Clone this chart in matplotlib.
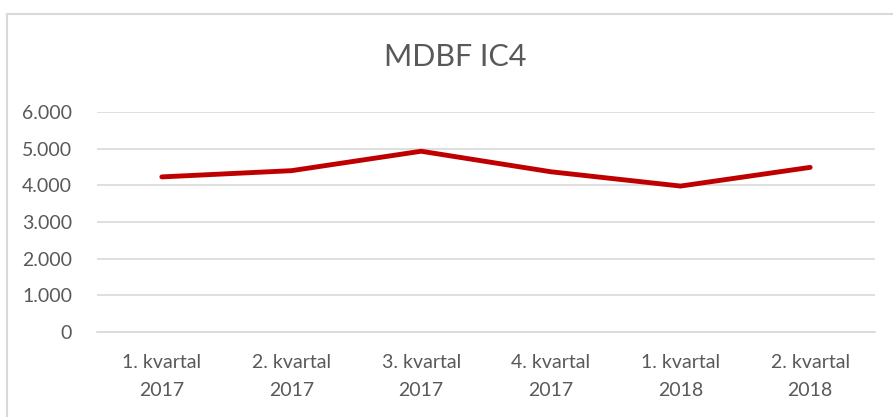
"""MDBF IC4 line chart."""
import matplotlib.pyplot as plt
from matplotlib.patches import Rectangle

kvartaler = ['1. kvartal\n2017', '2. kvartal\n2017', '3. kvartal\n2017',
             '4. kvartal\n2017', '1. kvartal\n2018', '2. kvartal\n2018']
mdbf = [4230, 4400, 4930, 4370, 3980, 4490]
yticks = [0, 1000, 2000, 3000, 4000, 5000, 6000]
ylabels = ['0', '1.000', '2.000', '3.000', '4.000', '5.000', '6.000']

text_color = '#595959'
grid_color = '#D9D9D9'

plt.rcParams['font.family'] = ['Lato', 'DejaVu Sans']

W, H = 893, 417
fig = plt.figure(figsize=(W / 100, H / 100), dpi=100)

# chart border (cut off at right and bottom in the original)
fig.patches.append(Rectangle((7 / W, -0.1), 1.2, 1.1 - 14 / H,
                             transform=fig.transFigure, fill=False,
                             edgecolor=grid_color, linewidth=1.5))

ax = fig.add_axes([97 / W, (H - 332) / H, (875 - 97) / W, (332 - 112) / H])

x = range(len(kvartaler))
ax.plot(x, mdbf, color='#C00000', linewidth=3.5, solid_capstyle='round',
        solid_joinstyle='round', zorder=3)

ax.set_xlim(-0.5, len(kvartaler) - 0.5)
ax.set_ylim(0, 6000)
ax.set_yticks(yticks)
ax.set_yticklabels(ylabels)
ax.set_xticks(list(x))
ax.set_xticklabels(kvartaler, linespacing=1.8)
ax.yaxis.grid(True, color=grid_color, linewidth=1.2)
ax.set_axisbelow(True)

for side in ['top', 'right', 'left']:
    ax.spines[side].set_visible(False)
ax.spines['bottom'].set_color(grid_color)
ax.spines['bottom'].set_linewidth(1.2)

ax.tick_params(axis='both', length=0, labelsize=14, colors=text_color)
ax.tick_params(axis='y', pad=18)
ax.tick_params(axis='x', pad=16)

fig.text(455 / W, 1 - 57 / H, 'MDBF IC4', ha='center', va='center',
         fontsize=22, color=text_color)

fig.savefig('out.png', dpi=100, facecolor='white')
